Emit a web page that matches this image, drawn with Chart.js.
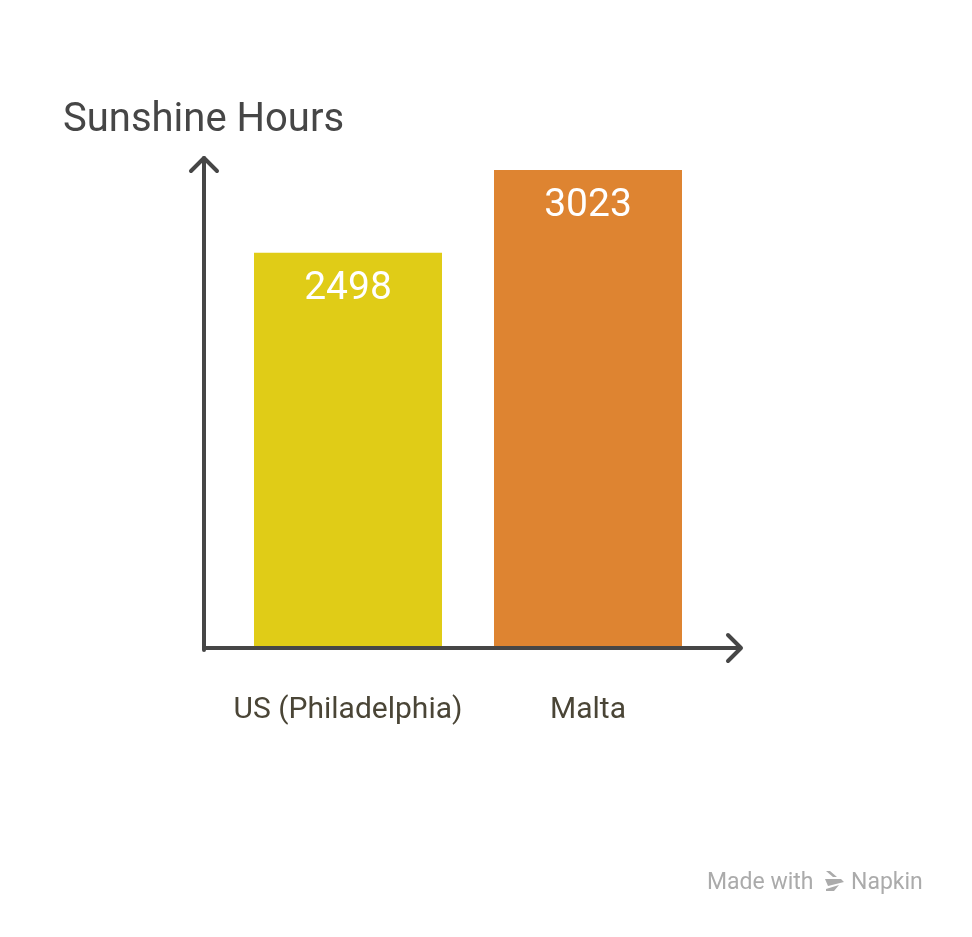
<!DOCTYPE html>
<html>
<head>
<meta charset="utf-8">
<title>Sunshine Hours</title>
<script src="https://cdn.jsdelivr.net/npm/chart.js@4"></script>
<style>
  html, body { margin: 0; padding: 0; background: #fff; }
  #wrap { width: 972px; height: 937px; }
</style>
</head>
<body>
<div id="wrap"><canvas id="sunChart" width="972" height="937"></canvas></div>
<script>
// data
const categories = ["US (Philadelphia)", "Malta"];
const sunshineHours = [2498, 3023];
const barColors = ["#E0CC17", "#DE8431"];
const chartTitle = "Sunshine Hours";

const AXIS = "#464646";

// axes with arrow heads, title, category labels, value labels, watermark
const napkinDecor = {
  id: "napkinDecor",
  afterDatasetsDraw(chart) {
    const { ctx, chartArea } = chart;
    const x0 = chartArea.left - 24;
    const y0 = chartArea.bottom + 2;
    ctx.save();
    ctx.strokeStyle = AXIS;
    ctx.lineWidth = 4;
    ctx.lineCap = "round";
    ctx.lineJoin = "round";
    // y axis
    ctx.beginPath();
    ctx.moveTo(x0, y0 + 2);
    ctx.lineTo(x0, 158);
    ctx.stroke();
    ctx.beginPath();
    ctx.moveTo(x0 - 13, 171);
    ctx.lineTo(x0, 158);
    ctx.lineTo(x0 + 13, 171);
    ctx.stroke();
    // x axis
    const xEnd = 741;
    ctx.lineCap = "butt";
    ctx.beginPath();
    ctx.moveTo(x0 - 2, y0);
    ctx.lineTo(xEnd, y0);
    ctx.stroke();
    ctx.lineCap = "round";
    ctx.beginPath();
    ctx.moveTo(xEnd - 13, y0 - 13);
    ctx.lineTo(xEnd, y0);
    ctx.lineTo(xEnd - 13, y0 + 13);
    ctx.stroke();

    // title
    ctx.fillStyle = "#464646";
    ctx.font = "40px Roboto";
    ctx.textAlign = "left";
    ctx.textBaseline = "alphabetic";
    ctx.fillText(chartTitle, 63, 131);

    // category labels
    const xs = chart.scales.x;
    ctx.fillStyle = "#4A4536";
    ctx.font = "30px Roboto";
    ctx.textAlign = "center";
    categories.forEach((c, i) => {
      ctx.fillText(c, xs.getPixelForValue(i), 718);
    });

    // value labels
    const meta = chart.getDatasetMeta(0);
    ctx.fillStyle = "#FFFFFF";
    ctx.font = "39px Roboto";
    meta.data.forEach((bar, i) => {
      ctx.fillText(String(sunshineHours[i]), bar.x, bar.y + 46);
    });

    // watermark
    ctx.fillStyle = "#ABABAB";
    ctx.font = "23px Roboto";
    ctx.textAlign = "left";
    ctx.fillText("Made with", 707, 889);
    ctx.fillText("Napkin", 851, 889);
    ctx.beginPath();
    ctx.moveTo(826, 871); ctx.lineTo(830, 871); ctx.lineTo(837, 877); ctx.lineTo(833, 877); ctx.closePath();
    ctx.moveTo(825, 879); ctx.lineTo(841, 879); ctx.lineTo(844, 882); ctx.lineTo(828, 886); ctx.closePath();
    ctx.moveTo(826, 889); ctx.lineTo(839, 885); ctx.lineTo(834, 891); ctx.lineTo(826, 891); ctx.closePath();
    ctx.fill();
    ctx.restore();
  }
};

function build() {
  new Chart(document.getElementById("sunChart"), {
    type: "bar",
    data: {
      labels: categories,
      datasets: [{
        data: sunshineHours,
        backgroundColor: barColors,
        borderWidth: 0,
        barPercentage: 1,
        categoryPercentage: 188 / 240
      }]
    },
    options: {
      responsive: false,
      devicePixelRatio: 1,
      animation: false,
      events: [],
      layout: { padding: { left: 228, right: 264, top: 170, bottom: 291 } },
      plugins: {
        legend: { display: false },
        title: { display: false },
        tooltip: { enabled: false }
      },
      scales: {
        x: { display: false, offset: true },
        y: { display: false, min: 0, max: Math.max(...sunshineHours) }
      }
    },
    plugins: [napkinDecor]
  });
}

if (document.fonts && document.fonts.load) {
  Promise.all([document.fonts.load("30px Roboto"), document.fonts.load("39px Roboto")])
    .then(build, build);
} else {
  build();
}
</script>
</body>
</html>
